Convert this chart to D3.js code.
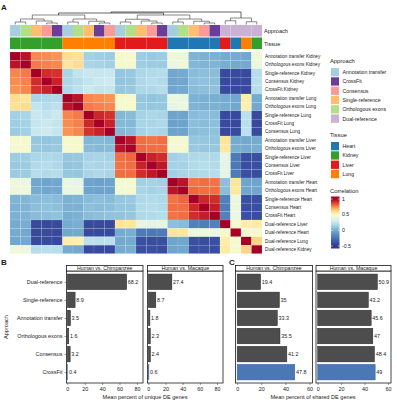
<!DOCTYPE html>
<html>
<head>
<meta charset="utf-8">
<script src="https://cdn.jsdelivr.net/npm/d3@7"></script>
<style>
  body { margin: 0; background: #fff; }
  svg text { font-family: "Liberation Sans", Arial, sans-serif; fill: #1a1a1a; }
</style>
</head>
<body>
<div id="chart"></div>
<script>
// ---- heatmap data (rows == columns, same order) ----
var sampleNames = [
  "Annotation transfer Kidney", "Orthologous exons Kidney", "Single-reference Kidney", "Consensus Kidney", "CrossFit Kidney",
  "Annotation transfer Lung", "Orthologous exons Lung", "Single-reference Lung", "CrossFit Lung", "Consensus Lung",
  "Annotation transfer Liver", "Orthologous exons Liver", "Single-reference Liver", "Consensus Liver", "CrossFit Liver",
  "Annotation transfer Heart", "Orthologous exons Heart", "Single-reference Heart", "Consensus Heart", "CrossFit Heart",
  "Dual-reference Liver", "Dual-reference Heart", "Dual-reference Lung", "Dual-reference Kidney"
];
var sampleApproach = [
  "Annotation transfer", "Orthologous exons", "Single-reference", "Consensus", "CrossFit",
  "Annotation transfer", "Orthologous exons", "Single-reference", "CrossFit", "Consensus",
  "Annotation transfer", "Orthologous exons", "Single-reference", "Consensus", "CrossFit",
  "Annotation transfer", "Orthologous exons", "Single-reference", "Consensus", "CrossFit",
  "Dual-reference", "Dual-reference", "Dual-reference", "Dual-reference"
];
var sampleTissue = [
  "Kidney", "Kidney", "Kidney", "Kidney", "Kidney",
  "Lung", "Lung", "Lung", "Lung", "Lung",
  "Liver", "Liver", "Liver", "Liver", "Liver",
  "Heart", "Heart", "Heart", "Heart", "Heart",
  "Liver", "Heart", "Lung", "Kidney"
];

// lower triangle of the correlation matrix (row i has i+1 values)
var corrLower = [
  [1],
  [0.96, 1],
  [0.76, 0.78, 1],
  [0.75, 0.77, 0.91, 1],
  [0.74, 0.76, 0.90, 0.93, 1],
  [0.60, 0.58, 0.16, 0.17, 0.18, 1],
  [0.59, 0.60, 0.24, 0.20, 0.22, 0.96, 1],
  [0.14, 0.16, 0.26, 0.24, 0.27, 0.76, 0.78, 1],
  [0.13, 0.15, 0.25, 0.27, 0.24, 0.75, 0.77, 0.92, 1],
  [0.12, 0.14, 0.26, 0.28, 0.25, 0.74, 0.76, 0.90, 0.93, 1],
  [0.46, 0.45, 0.10, 0.09, 0.10, 0.47, 0.46, 0.04, 0.05, 0.04, 1],
  [0.45, 0.46, 0.11, 0.10, 0.11, 0.46, 0.47, 0.06, 0.05, 0.06, 0.96, 1],
  [0.12, 0.13, 0.17, 0.18, 0.17, 0.10, 0.11, 0.15, 0.16, 0.15, 0.80, 0.81, 1],
  [0.11, 0.12, 0.19, 0.20, 0.18, 0.09, 0.10, 0.17, 0.16, 0.17, 0.79, 0.80, 0.93, 1],
  [0.12, 0.12, 0.20, 0.19, 0.20, 0.10, 0.10, 0.16, 0.18, 0.16, 0.80, 0.80, 0.91, 0.95, 1],
  [0.42, 0.40, -0.02, -0.03, -0.02, 0.40, 0.38, -0.04, -0.05, -0.04, 0.45, 0.44, 0.14, 0.15, 0.14, 1],
  [0.41, 0.42, 0.00, -0.02, -0.01, 0.39, 0.40, -0.03, -0.04, -0.03, 0.44, 0.46, 0.16, 0.15, 0.16, 0.96, 1],
  [0.03, 0.04, 0.06, 0.07, 0.06, 0.02, 0.03, 0.06, 0.07, 0.06, 0.10, 0.11, 0.18, 0.19, 0.18, 0.79, 0.81, 1],
  [0.02, 0.03, 0.07, 0.08, 0.07, 0.02, 0.02, 0.07, 0.06, 0.07, 0.10, 0.10, 0.19, 0.20, 0.19, 0.80, 0.80, 0.92, 1],
  [0.02, 0.03, 0.06, 0.07, 0.08, 0.01, 0.02, 0.06, 0.07, 0.08, 0.09, 0.10, 0.18, 0.19, 0.20, 0.79, 0.80, 0.91, 0.94, 1],
  [0.00, 0.01, -0.42, -0.43, -0.42, 0.00, 0.01, -0.42, -0.42, -0.43, 0.58, 0.57, 0.38, 0.37, 0.38, 0.07, 0.06, -0.20, -0.21, -0.20, 1],
  [0.00, -0.01, -0.43, -0.42, -0.43, -0.02, -0.01, -0.42, -0.43, -0.42, 0.00, 0.01, -0.22, -0.23, -0.22, 0.58, 0.57, 0.40, 0.41, 0.40, 0.47, 1],
  [-0.02, -0.01, -0.42, -0.42, -0.43, 0.55, 0.54, 0.22, 0.21, 0.22, -0.01, 0.00, -0.40, -0.41, -0.40, -0.03, -0.02, -0.40, -0.41, -0.40, 0.55, 0.45, 1],
  [0.42, 0.41, 0.20, 0.21, 0.20, 0.00, -0.01, -0.42, -0.43, -0.42, 0.00, 0.01, -0.40, -0.40, -0.41, -0.03, -0.02, -0.40, -0.40, -0.41, 0.56, 0.46, 0.62, 1]
];

// column dendrogram: leaves are column indices, h = merge height (0..1)
var colTree = {h: 1, c: [
  {h: 0.92, c: [
    {h: 0.76, c: [
      {h: 0.44, c: [{h: 0.2, c: [0, 1]}, {h: 0.28, c: [2, {h: 0.12, c: [3, 4]}]}]},
      {h: 0.44, c: [{h: 0.2, c: [5, 6]}, {h: 0.26, c: [7, {h: 0.12, c: [8, 9]}]}]}
    ]},
    {h: 0.76, c: [
      {h: 0.42, c: [{h: 0.2, c: [10, 11]}, {h: 0.28, c: [12, {h: 0.12, c: [13, 14]}]}]},
      {h: 0.44, c: [{h: 0.2, c: [15, 16]}, {h: 0.26, c: [17, {h: 0.12, c: [18, 19]}]}]}
    ]}
  ]},
  {h: 0.52, c: [{h: 0.3, c: [20, 21]}, {h: 0.22, c: [22, 23]}]}
]};

var approachLevels = ["Annotation transfer", "CrossFit", "Consensus", "Single-reference", "Orthologous exons", "Dual-reference"];
var approachColors = ["#a6cee3", "#6a3d9a", "#fb9a99", "#fdbf6f", "#b2df8a", "#cab2d6"];
var tissueLevels = ["Heart", "Kidney", "Liver", "Lung"];
var tissueColors = ["#1f78b4", "#33a02c", "#e31a1c", "#ff7f00"];
var corrTicks = [1, 0.5, 0, -0.5];

// ---- bar chart data ----
var approachOrder = ["Dual-reference", "Single-reference", "Annotation transfer", "Orthologous exons", "Consensus", "CrossFit"];
var uniqueChimp = [68.2, 8.9, 3.5, 1.6, 3.2, 0.4];
var uniqueMacaque = [27.4, 8.7, 1.8, 2.3, 2.4, 0.6];
var sharedChimp = [19.4, 35, 33.3, 35.5, 41.2, 47.8];
var sharedMacaque = [50.9, 43.2, 45.6, 47, 48.4, 49];
var uniqueTicks = [0, 20, 40, 60, 80];
var sharedTicks = [0, 20, 40, 60];
var facetNames = ["Human vs. Chimpanzee", "Human vs. Macaque"];

var svg = d3.select("#chart").append("svg")
  .attr("width", 397)
  .attr("height", 400);

// ================= panel A : heatmap =================
var n = sampleNames.length;
var idx = d3.range(n);
function corr(i, j) { return i >= j ? corrLower[i][j] : corrLower[j][i]; }

var xCell = d3.scaleBand().domain(idx).range([10, 262]);
var yCell = d3.scaleBand().domain(idx).range([52, 253.6]);

// value -> position on RdYlBu (0 = red, 1 = blue)
var tPos = d3.scaleLinear().domain([-0.5, 0, 0.5, 1]).range([1, 0.8, 0.5, 0]).clamp(true);
function corrColor(v) { return d3.interpolateRdYlBu(tPos(v)); }

var approachScale = d3.scaleOrdinal().domain(approachLevels).range(approachColors);
var tissueScale = d3.scaleOrdinal().domain(tissueLevels).range(tissueColors);

var cells = [];
idx.forEach(function(i) { idx.forEach(function(j) { cells.push({r: i, c: j, v: corr(i, j)}); }); });

var heat = svg.append("g");
heat.selectAll("rect")
  .data(cells)
  .enter()
  .append("rect")
  .attr("x", d => xCell(d.c))
  .attr("y", d => yCell(d.r))
  .attr("width", xCell.bandwidth())
  .attr("height", yCell.bandwidth())
  .attr("fill", d => corrColor(d.v))
  .attr("stroke", "#ffffff")
  .attr("stroke-opacity", 0.25)
  .attr("stroke-width", 0.4);

// annotation bars
svg.append("g").selectAll("rect")
  .data(idx)
  .enter()
  .append("rect")
  .attr("x", d => xCell(d))
  .attr("y", 25)
  .attr("width", xCell.bandwidth())
  .attr("height", 11.5)
  .attr("fill", d => approachScale(sampleApproach[d]));

svg.append("g").selectAll("rect")
  .data(idx)
  .enter()
  .append("rect")
  .attr("x", d => xCell(d))
  .attr("y", 37.5)
  .attr("width", xCell.bandwidth())
  .attr("height", 11.5)
  .attr("fill", d => tissueScale(sampleTissue[d]));

svg.append("text").attr("x", 264).attr("y", 33).style("font-size", "5.6px").text("Approach");
svg.append("text").attr("x", 264).attr("y", 45.5).style("font-size", "5.6px").text("Tissue");

// row labels
svg.append("g").selectAll("text")
  .data(idx)
  .enter()
  .append("text")
  .attr("x", 265)
  .attr("y", d => yCell(d) + yCell.bandwidth() / 2)
  .attr("dy", "0.35em")
  .style("font-size", "4.7px")
  .text(d => sampleNames[d]);

// dendrogram
var dendroY = d3.scaleLinear().domain([0, 1]).range([24.5, 12]);
var dendro = svg.append("g")
  .attr("fill", "none")
  .attr("stroke", "#4d4d4d")
  .attr("stroke-width", 0.7);

function drawTree(node) {
  if (typeof node === "number") {
    return {x: xCell(node) + xCell.bandwidth() / 2, y: dendroY(0)};
  }
  var a = drawTree(node.c[0]);
  var b = drawTree(node.c[1]);
  var y = dendroY(node.h);
  dendro.append("path")
    .attr("d", `M${a.x},${a.y}V${y}H${b.x}V${b.y}`)
    .attr("stroke", node.h >= 0.9 ? "#222" : "#555");
  return {x: (a.x + b.x) / 2, y: y};
}
drawTree(colTree);

// legends
var legX = 330;
svg.append("text").attr("x", legX).attr("y", 63).style("font-size", "5.8px").text("Approach");
var appLeg = svg.append("g").selectAll("g")
  .data(approachLevels)
  .enter()
  .append("g")
  .attr("transform", (d, i) => `translate(${legX + 1}, ${68 + i * 9.3})`);
appLeg.append("rect").attr("width", 8).attr("height", 8.3).attr("fill", d => approachScale(d));
appLeg.append("text").attr("x", 11.5).attr("y", 4.2).attr("dy", "0.35em").style("font-size", "5.2px").text(d => d);

svg.append("text").attr("x", legX).attr("y", 137).style("font-size", "5.8px").text("Tissue");
var tisLeg = svg.append("g").selectAll("g")
  .data(tissueLevels)
  .enter()
  .append("g")
  .attr("transform", (d, i) => `translate(${legX + 1}, ${142 + i * 9.3})`);
tisLeg.append("rect").attr("width", 8).attr("height", 8.3).attr("fill", d => tissueScale(d));
tisLeg.append("text").attr("x", 11.5).attr("y", 4.2).attr("dy", "0.35em").style("font-size", "5.2px").text(d => d);

svg.append("text").attr("x", legX).attr("y", 193).style("font-size", "5.8px").text("Correlation");
var legY = d3.scaleLinear().domain([1, -0.5]).range([199, 246]);
var defs = svg.append("defs");
var grad = defs.append("linearGradient").attr("id", "corrGrad")
  .attr("x1", 0).attr("y1", 0).attr("x2", 0).attr("y2", 1);
d3.range(0, 1.0001, 0.05).forEach(function(f) {
  var v = legY.invert(196.5 + f * (248.5 - 196.5));
  grad.append("stop").attr("offset", f).attr("stop-color", corrColor(v));
});
svg.append("rect").attr("x", legX + 1).attr("y", 196.5).attr("width", 8.5).attr("height", 52)
  .attr("fill", "url(#corrGrad)");
var cTick = svg.append("g").selectAll("g")
  .data(corrTicks)
  .enter()
  .append("g")
  .attr("transform", d => `translate(0, ${legY(d)})`);
cTick.append("line").attr("x1", legX + 1).attr("x2", legX + 2.8).attr("stroke", "#fff").attr("stroke-width", 0.6);
cTick.append("line").attr("x1", legX + 7.7).attr("x2", legX + 9.5).attr("stroke", "#fff").attr("stroke-width", 0.6);
cTick.append("text").attr("x", legX + 12).attr("dy", "0.35em").style("font-size", "5.2px").text(d => d);

// panel letters
svg.append("text").attr("x", 1).attr("y", 10).style("font-size", "8px").style("font-weight", "bold").text("A");
svg.append("text").attr("x", 1).attr("y", 265).style("font-size", "8px").style("font-weight", "bold").text("B");
svg.append("text").attr("x", 229).attr("y", 265).style("font-size", "8px").style("font-weight", "bold").text("C");

// ================= panels B and C : bars =================
var yCat = d3.scalePoint().domain(approachOrder).range([271, 383]).padding(0.6);
var barH = yCat.step() * 0.86;

function drawFacet(x0, x1, domain, values, ticks, title, showY) {
  var xs = d3.scaleLinear().domain(domain).range([x0, x1]);
  var g = svg.append("g");

  g.selectAll("rect.bar")
    .data(values)
    .enter()
    .append("rect")
    .attr("class", "bar")
    .attr("x", xs(0))
    .attr("y", (d, i) => yCat(approachOrder[i]) - barH / 2)
    .attr("width", d => xs(d) - xs(0))
    .attr("height", barH)
    .attr("fill", (d, i) => approachOrder[i] === "CrossFit" ? "#4a78b4" : "#4d4d4d")
    .attr("stroke", (d, i) => approachOrder[i] === "CrossFit" ? "#2f5f9e" : "#262626")
    .attr("stroke-width", 0.5);

  g.selectAll("text.val")
    .data(values)
    .enter()
    .append("text")
    .attr("class", "val")
    .attr("x", d => xs(d) + 1.2)
    .attr("y", (d, i) => yCat(approachOrder[i]))
    .attr("dy", "0.35em")
    .style("font-size", "5.4px")
    .text(d => d);

  // panel border and strip
  g.append("rect").attr("x", x0).attr("y", 271).attr("width", x1 - x0).attr("height", 112)
    .attr("fill", "none").attr("stroke", "#1a1a1a").attr("stroke-width", 0.8);
  g.append("rect").attr("x", x0).attr("y", 265.5).attr("width", x1 - x0).attr("height", 5.5)
    .attr("fill", "#ffffff").attr("stroke", "#1a1a1a").attr("stroke-width", 0.8);
  g.append("text").attr("x", (x0 + x1) / 2).attr("y", 268.4).attr("dy", "0.35em")
    .attr("text-anchor", "middle").style("font-size", "5.2px").text(title);

  // x axis
  var xAxis = d3.axisBottom(xs).tickValues(ticks).tickSize(2).tickPadding(2);
  var ax = g.append("g").attr("transform", "translate(0,383)").call(xAxis);
  ax.select(".domain").remove();
  ax.selectAll("line").attr("stroke", "#333").attr("stroke-width", 0.5);
  ax.selectAll("text").style("font-size", "5.4px").attr("fill", "#1a1a1a");

  if (showY) {
    var yAxis = d3.axisLeft(yCat).tickSize(2).tickPadding(2);
    var ay = g.append("g").attr("transform", `translate(${x0},0)`).call(yAxis);
    ay.select(".domain").remove();
    ay.selectAll("line").attr("stroke", "#333").attr("stroke-width", 0.5);
    ay.selectAll("text").style("font-size", "5.4px").attr("fill", "#1a1a1a");
  }
}

drawFacet(66.5, 143, [-1, 87], uniqueChimp, uniqueTicks, facetNames[0], true);
drawFacet(147.5, 223, [-1, 87], uniqueMacaque, uniqueTicks, facetNames[1], false);
drawFacet(235.5, 312.5, [-1.4, 62.5], sharedChimp, sharedTicks, facetNames[0], false);
drawFacet(316, 391, [-1.4, 62.5], sharedMacaque, sharedTicks, facetNames[1], false);

svg.append("text").attr("transform", "translate(8,327) rotate(-90)")
  .attr("text-anchor", "middle").style("font-size", "5.6px").text("Approach");
svg.append("text").attr("x", 145).attr("y", 399).attr("text-anchor", "middle")
  .style("font-size", "5.6px").text("Mean percent of unique DE genes");
svg.append("text").attr("x", 313).attr("y", 399).attr("text-anchor", "middle")
  .style("font-size", "5.6px").text("Mean percent of shared DE genes");
</script>
</body>
</html>
